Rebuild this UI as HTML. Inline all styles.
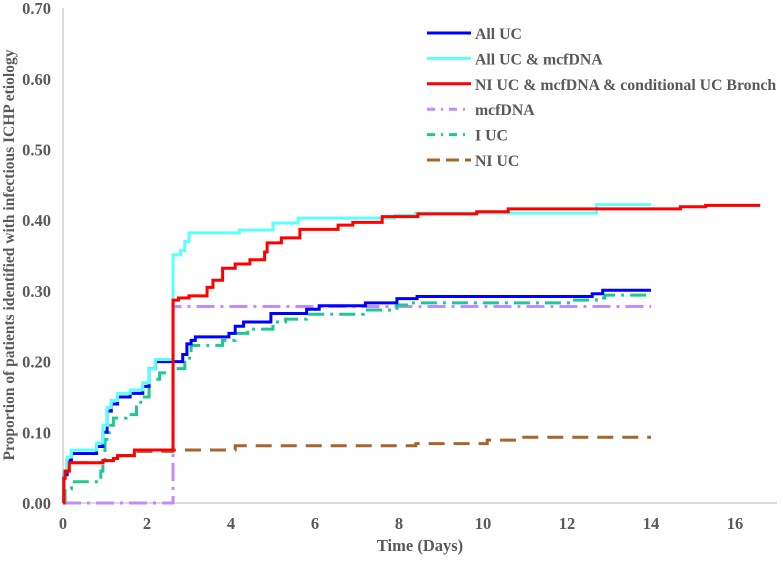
<!DOCTYPE html>
<html><head><meta charset="utf-8"><style>
body{margin:0;background:#fff}
svg text{font-family:"Liberation Serif",serif;font-weight:bold;fill:#595959}
</style></head><body>
<svg width="783" height="556" viewBox="0 0 783 556">
<g id="axes"></g><g id="series"></g><g id="legend"></g>
</svg>
<script>
const xTicks=[0,2,4,6,8,10,12,14,16];
const yTicks=[0,0.1,0.2,0.3,0.4,0.5,0.6,0.7];
const seriesNames=["All UC","All UC & mcfDNA","NI UC & mcfDNA & conditional UC Bronch","mcfDNA","I UC","NI UC"];
const allUcT=[0,0.02,0.1,0.2,0.8,0.95,1.05,1.15,1.3,1.6,1.9,2.05,2.2,2.85,2.95,3.05,3.15,3.95,4.1,4.3,4.95,5.8,6.1,7.2,7.95,8.43,12.6,12.85,14];
const allUcV=[0,0.04,0.06,0.07,0.08,0.1,0.13,0.14,0.15,0.155,0.165,0.19,0.2,0.21,0.225,0.23,0.235,0.24,0.25,0.256,0.268,0.274,0.279,0.283,0.289,0.292,0.296,0.301,0.301];
const allMcfT=[0,0.02,0.1,0.2,0.8,0.95,1.05,1.15,1.3,1.6,1.9,2.05,2.2,2.62,2.8,2.9,3.0,4.2,5.0,5.6,7.9,8.4,12.7,14];
const allMcfV=[0,0.045,0.065,0.075,0.085,0.11,0.135,0.145,0.155,0.16,0.17,0.19,0.203,0.351,0.357,0.37,0.382,0.386,0.396,0.403,0.407,0.41,0.422,0.422];
const niCondT=[0,0.02,0.05,0.15,0.95,1.2,1.3,1.7,2.62,2.75,3.0,3.43,3.57,3.8,4.1,4.45,4.8,4.86,5.2,5.64,6.55,6.9,7.6,8.45,9.85,10.6,14.7,15.3,16.6];
const niCondV=[0,0.035,0.045,0.057,0.06,0.063,0.067,0.075,0.287,0.29,0.293,0.305,0.315,0.332,0.338,0.344,0.355,0.368,0.375,0.387,0.393,0.397,0.405,0.409,0.412,0.416,0.419,0.421,0.421];
const mcfT=[0,2.62,14];
const mcfV=[0,0.278,0.278];
const iUcT=[0,0.05,0.2,0.9,0.95,1.0,1.1,1.2,1.5,1.75,1.85,2.05,2.3,2.62,2.9,3.05,3.8,4.1,4.4,5.0,5.3,5.8,7.15,7.95,8.3,12.1,12.7,12.9,14];
const iUcV=[0,0.02,0.03,0.045,0.06,0.09,0.11,0.12,0.125,0.14,0.15,0.175,0.184,0.19,0.205,0.223,0.23,0.24,0.246,0.256,0.26,0.267,0.273,0.28,0.283,0.287,0.29,0.294,0.294];
const niUcT=[0,0.02,0.05,0.15,0.95,1.2,1.3,1.7,2.62,4.1,8.4,10.1,10.8,14];
const niUcV=[0,0.035,0.045,0.057,0.06,0.063,0.067,0.073,0.075,0.081,0.084,0.089,0.093,0.093];

const X=d=>63+42*d, Y=v=>503-707*v;
const NS="http://www.w3.org/2000/svg";
function mk(tag,attrs,parent){const e=document.createElementNS(NS,tag);for(const k in attrs)e.setAttribute(k,attrs[k]);parent.appendChild(e);return e;}
const axes=document.getElementById('axes');
let yl=mk('line',{x1:63,y1:8,x2:63,y2:503,stroke:'#d0d0d0','stroke-width':1.5},axes);


let xl=mk('line',{x1:63,y1:503,x2:777,y2:503,stroke:'#d0d0d0','stroke-width':1.5},axes);


yTicks.forEach(v=>{const t=mk('text',{x:51,y:Y(v)+6,'text-anchor':'end','font-size':16.5},axes);t.textContent=v.toFixed(2);

});
xTicks.forEach(d=>{const t=mk('text',{x:X(d),y:529,'text-anchor':'middle','font-size':16.5},axes);t.textContent=d;

});
let xt=mk('text',{x:420,y:551,'text-anchor':'middle','font-size':16.5},axes);xt.textContent='Time (Days)';


let yt=mk('text',{x:0,y:0,'text-anchor':'middle','font-size':15.5,transform:'translate(14,255) rotate(-90)'},axes);yt.textContent='Proportion of patients identified with infectious ICHP etiology';



const styles=[
 {c:'#0000ff',d:'',T:allUcT,V:allUcV,n:'series-all-uc'},
 {c:'#5cffff',d:'',T:allMcfT,V:allMcfV,n:'series-all-uc-mcfdna'},
 {c:'#ff0000',d:'',T:niCondT,V:niCondV,n:'series-ni-uc-mcfdna-bronch'},
 {c:'#c28cff',d:'18,6,3,6',T:mcfT,V:mcfV,n:'series-mcfdna'},
 {c:'#1fc795',d:'16,6,3,6',T:iUcT,V:iUcV,n:'series-i-uc'},
 {c:'#a5652f',d:'16,9',T:niUcT,V:niUcV,n:'series-ni-uc'}];
const sg=document.getElementById('series');
const order=[3,4,0,1,5,2];
order.forEach(i=>{const s=styles[i];let p='M'+X(s.T[0])+','+Y(s.V[0]);
 for(let k=1;k<s.T.length;k++){p+='H'+X(s.T[k])+'V'+Y(s.V[k]);}
 const a={d:p,fill:'none',stroke:s.c,'stroke-width':3};if(s.d)a['stroke-dasharray']=s.d;
 const e=mk('path',a,sg);
 
 });
const lg=document.getElementById('legend');
styles.forEach((s,i)=>{const y=33+25.4*i;
 const a={x1:427,y1:y,x2:471,y2:y,stroke:s.c,'stroke-width':3};if(s.d)a['stroke-dasharray']=s.d==='16,9'?'13,6':'8,6,2,6';
 const l=mk('line',a,lg);
 
 
 const t=mk('text',{x:475,y:y+6,'font-size':15.8},lg);t.textContent=seriesNames[i];
 
 });
</script>
</body></html>
